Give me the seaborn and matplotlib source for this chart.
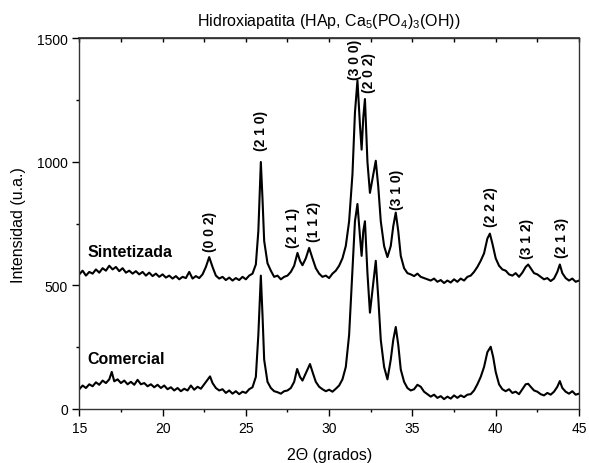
import numpy as np
import pandas as pd
import matplotlib
matplotlib.use("Agg")
import matplotlib.pyplot as plt
import seaborn as sns
from matplotlib.ticker import MultipleLocator

# ---------------- data ----------------
sint_2theta = [15.0, 15.2, 15.4, 15.6, 15.8, 16.0, 16.2, 16.4, 16.6, 16.8, 17.0, 17.2, 17.4, 17.6, 17.8,
               18.0, 18.2, 18.4, 18.6, 18.8, 19.0, 19.2, 19.4, 19.6, 19.8, 20.0, 20.2, 20.4, 20.6, 20.8,
               21.0, 21.2, 21.4, 21.6, 21.8, 22.0, 22.2, 22.4, 22.6, 22.8, 23.0, 23.2, 23.4, 23.6, 23.8,
               24.0, 24.2, 24.4, 24.6, 24.8, 25.0, 25.2, 25.4, 25.6, 25.75, 25.9, 26.0, 26.1, 26.3, 26.5,
               26.7, 26.9, 27.1, 27.3, 27.5, 27.7, 27.9, 28.1, 28.25, 28.4, 28.6, 28.8, 29.0, 29.2, 29.4,
               29.6, 29.8, 30.0, 30.2, 30.4, 30.6, 30.8, 31.0, 31.2, 31.4, 31.55, 31.7, 31.85, 31.95, 32.05,
               32.15, 32.3, 32.45, 32.6, 32.8, 32.95, 33.1, 33.3, 33.5, 33.7, 33.85, 34.0, 34.15, 34.3, 34.5,
               34.7, 34.9, 35.1, 35.3, 35.5, 35.7, 35.9, 36.1, 36.3, 36.5, 36.7, 36.9, 37.1, 37.3, 37.5,
               37.7, 37.9, 38.1, 38.3, 38.5, 38.7, 38.9, 39.1, 39.3, 39.5, 39.65, 39.8, 40.0, 40.2, 40.4,
               40.6, 40.8, 41.0, 41.2, 41.4, 41.6, 41.8, 41.95, 42.1, 42.3, 42.5, 42.7, 42.9, 43.1, 43.3,
               43.5, 43.7, 43.85, 44.0, 44.2, 44.4, 44.6, 44.8, 45.0]
sint_int = [545, 560, 540, 555, 548, 565, 552, 570, 560, 580, 565, 575, 558, 570, 552,
            560, 548, 558, 545, 555, 540, 552, 538, 548, 535, 545, 532, 540, 528, 538,
            525, 535, 530, 555, 528, 538, 530, 545, 575, 615, 575, 540, 528, 535, 522,
            532, 520, 530, 522, 535, 525, 540, 548, 585, 720, 1000, 850, 680, 590, 560,
            535, 540, 525, 535, 540, 555, 580, 632, 600, 582, 610, 652, 610, 570, 548,
            535, 540, 530, 548, 560, 580, 610, 660, 760, 950, 1200, 1330, 1150, 1050, 1180,
            1255, 1000, 875, 930, 1005, 900, 760, 660, 615, 660, 740, 795, 720, 620, 570,
            550, 545, 538, 548, 535, 530, 525, 520, 528, 515, 522, 510, 520, 512, 525,
            515, 528, 520, 535, 540, 555, 575, 600, 630, 690, 710, 670, 610, 580, 565,
            560, 545, 540, 550, 535, 552, 575, 585, 570, 550, 545, 535, 525, 530, 518,
            528, 555, 585, 550, 530, 520, 528, 515, 520]

com_2theta = [15.0, 15.2, 15.4, 15.6, 15.8, 16.0, 16.2, 16.4, 16.6, 16.8, 16.95, 17.1, 17.3, 17.5, 17.7,
              17.9, 18.1, 18.3, 18.5, 18.7, 18.9, 19.1, 19.3, 19.5, 19.7, 19.9, 20.1, 20.3, 20.5, 20.7,
              20.9, 21.1, 21.3, 21.5, 21.7, 21.9, 22.1, 22.3, 22.5, 22.7, 22.85, 23.0, 23.2, 23.4, 23.6,
              23.8, 24.0, 24.2, 24.4, 24.6, 24.8, 25.0, 25.2, 25.4, 25.6, 25.75, 25.9, 26.0, 26.1, 26.3,
              26.5, 26.7, 26.9, 27.1, 27.3, 27.5, 27.7, 27.9, 28.08, 28.25, 28.4, 28.6, 28.85, 29.05, 29.2,
              29.4, 29.6, 29.8, 30.0, 30.2, 30.4, 30.6, 30.8, 31.0, 31.2, 31.4, 31.55, 31.7, 31.85, 31.95,
              32.05, 32.15, 32.3, 32.45, 32.6, 32.8, 32.95, 33.1, 33.3, 33.5, 33.7, 33.85, 34.0, 34.15, 34.3,
              34.5, 34.7, 34.9, 35.1, 35.3, 35.5, 35.7, 35.9, 36.1, 36.3, 36.5, 36.7, 36.9, 37.1, 37.3,
              37.5, 37.7, 37.9, 38.1, 38.3, 38.5, 38.7, 38.9, 39.1, 39.3, 39.5, 39.7, 39.85, 40.0, 40.2,
              40.4, 40.6, 40.8, 41.0, 41.2, 41.4, 41.6, 41.8, 41.95, 42.1, 42.3, 42.5, 42.7, 42.9, 43.1,
              43.3, 43.5, 43.7, 43.85, 44.0, 44.2, 44.4, 44.6, 44.8, 45.0]
com_int = [80, 95, 85, 100, 92, 108, 98, 115, 105, 120, 150, 112, 120, 105, 115,
           100, 110, 98, 118, 100, 105, 92, 100, 88, 98, 85, 95, 80, 88, 75,
           85, 72, 82, 75, 95, 78, 90, 82, 100, 118, 132, 105, 85, 75, 80,
           65, 75, 62, 72, 60, 70, 65, 80, 88, 130, 300, 540, 380, 200, 110,
           85, 72, 68, 62, 72, 75, 85, 110, 162, 130, 115, 145, 182, 140, 110,
           90, 80, 72, 78, 70, 82, 95, 120, 170, 300, 560, 760, 830, 700, 620,
           720, 760, 550, 390, 480, 600, 450, 280, 170, 120, 200, 280, 332, 260, 160,
           110, 85, 75, 80, 98, 90, 70, 60, 50, 58, 45, 52, 40, 50, 42,
           55, 45, 55, 48, 58, 60, 75, 100, 130, 170, 230, 252, 210, 150, 100,
           80, 72, 80, 65, 70, 60, 80, 100, 102, 90, 75, 70, 60, 55, 65,
           58, 70, 90, 113, 85, 70, 62, 72, 58, 62]

peak_labels = ["(0 0 2)", "(2 1 0)", "(2 1 1)", "(1 1 2)", "(3 0 0)", "(2 0 2)",
               "(3 1 0)", "(2 2 2)", "(3 1 2)", "(2 1 3)"]
peak_label_x = [22.85, 25.9, 27.85, 29.1, 31.55, 32.4, 34.1, 39.7, 41.9, 44.0]
peak_label_y = [640, 1050, 656, 680, 1335, 1285, 810, 740, 612, 615]

series_names = ["Sintetizada", "Comercial"]
series_label_x = [15.5, 15.5]
series_label_y = [636, 203]

x_ticks = [15, 20, 25, 30, 35, 40, 45]
y_ticks = [0, 500, 1000, 1500]

# ---------------- plot ----------------
sns.set_theme(style="ticks")
plt.rcParams["font.family"] = ["Liberation Sans", "DejaVu Sans"]
plt.rcParams["mathtext.fontset"] = "custom"
plt.rcParams["mathtext.rm"] = "Liberation Sans"
plt.rcParams["mathtext.it"] = "Liberation Sans:italic"
plt.rcParams["text.color"] = "black"
plt.rcParams["axes.labelcolor"] = "black"
plt.rcParams["xtick.color"] = "black"
plt.rcParams["ytick.color"] = "black"

df = pd.concat([
    pd.DataFrame({"2theta": sint_2theta, "I": sint_int, "muestra": "Sintetizada"}),
    pd.DataFrame({"2theta": com_2theta, "I": com_int, "muestra": "Comercial"}),
])

fig = plt.figure(figsize=(5.89, 4.64), dpi=100)
ax = fig.add_axes([0.1346, 0.1164, 0.983 - 0.1346, 0.9149 - 0.1164])

sns.lineplot(data=df, x="2theta", y="I", units="muestra", estimator=None, sort=False,
             color="black", linewidth=1.5, ax=ax, legend=False)

ax.set_xlim(15, 45)
ax.set_ylim(0, 1500)
ax.set_xticks(x_ticks)
ax.set_yticks(y_ticks)
ax.xaxis.set_minor_locator(MultipleLocator(2.5))
ax.yaxis.set_minor_locator(MultipleLocator(250))
ax.tick_params(axis="both", which="major", direction="out", length=5, width=1,
               labelsize=10, colors="black")
ax.tick_params(axis="both", which="minor", direction="out", length=2.5, width=1)
ax.tick_params(axis="x", pad=4)
ax.tick_params(axis="y", pad=3)

for s in ax.spines.values():
    s.set_visible(True)
    s.set_color("#333333")
    s.set_linewidth(1.0)

top = ax.secondary_xaxis("top")
top.set_xticks([15, 17.5, 20, 22.5, 25, 27.5, 30, 32.5, 35, 37.5, 40, 42.5, 45])
top.tick_params(direction="in", length=3, width=1, labeltop=False)
top.spines["top"].set_color("#333333")

ax.set_xlabel("2\u0398 (grados)", fontsize=11.5, labelpad=8)
ax.set_ylabel("Intensidad (u.a.)", fontsize=11.5, labelpad=8)
ax.set_title("Hidroxiapatita (HAp, Ca$_5$(PO$_4$)$_3$(OH))", fontsize=11.5, pad=10)

for lab, px, py in zip(peak_labels, peak_label_x, peak_label_y):
    ax.text(px, py, lab, rotation=90, ha="center", va="bottom", fontsize=10,
            fontweight="bold")

for name, sx, sy in zip(series_names, series_label_x, series_label_y):
    ax.text(sx, sy, name, ha="left", va="center", fontsize=11.5, fontweight="bold")

fig.savefig("out.png", dpi=100)
